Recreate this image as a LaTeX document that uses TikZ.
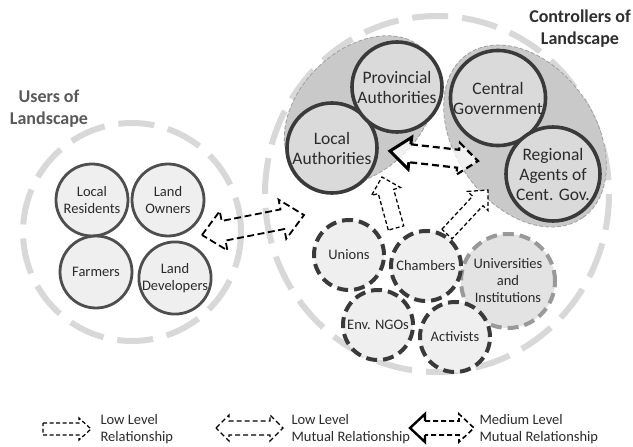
\documentclass[tikz,border=0pt]{standalone}
\usepackage{fontspec}
\setmainfont{Carlito}
\usetikzlibrary{calc}

\definecolor{ring}{HTML}{D8D8D8}
\definecolor{blob}{HTML}{C9C9C9}
\definecolor{topfill}{HTML}{DADADA}
\definecolor{lightfill}{HTML}{EFEFEF}
\definecolor{unifill}{HTML}{E3E3E3}
\definecolor{edge}{HTML}{3A3A3A}
\definecolor{txt}{HTML}{2B2B2B}

% single block arrow: style, tail, tip, shaft half width, head half width, head length
\newcommand\onewayarrow[6]{%
  \path ($(#3)!#6!(#2)$) coordinate (ow-h);
  \draw[#1] ($(#2)!#4!90:(#3)$) -- ($(ow-h)!#4!90:(#3)$) -- ($(ow-h)!#5!90:(#3)$)
    -- (#3) -- ($(ow-h)!#5!-90:(#3)$) -- ($(ow-h)!#4!-90:(#3)$) -- ($(#2)!#4!-90:(#3)$) -- cycle;
}
% double block arrow: style, end a, end b, shaft half width, head half width, head length
\newcommand\twowayarrow[6]{%
  \path ($(#2)!#6!(#3)$) coordinate (tw-a) ($(#3)!#6!(#2)$) coordinate (tw-b);
  \draw[#1] (#2) -- ($(tw-a)!#5!90:(#3)$) -- ($(tw-a)!#4!90:(#3)$) -- ($(tw-b)!#4!90:(#3)$)
    -- ($(tw-b)!#5!90:(#3)$) -- (#3) -- ($(tw-b)!#5!-90:(#3)$) -- ($(tw-b)!#4!-90:(#3)$)
    -- ($(tw-a)!#4!-90:(#3)$) -- ($(tw-a)!#5!-90:(#3)$) -- cycle;
}
% double block arrow with a solid head at end a: head style, rest style, a, b, s, h, L
\newcommand\mediumarrow[7]{%
  \path ($(#3)!#7!(#4)$) coordinate (md-a) ($(#4)!#7!(#3)$) coordinate (md-b);
  \fill[white, fill opacity=0.75] (#3) -- ($(md-a)!#6!90:(#4)$) -- ($(md-a)!#5!90:(#4)$) -- ($(md-b)!#5!90:(#4)$)
    -- ($(md-b)!#6!90:(#4)$) -- (#4) -- ($(md-b)!#6!-90:(#4)$) -- ($(md-b)!#5!-90:(#4)$)
    -- ($(md-a)!#5!-90:(#4)$) -- ($(md-a)!#6!-90:(#4)$) -- cycle;
  \draw[#2] ($(md-a)!#5!90:(#4)$) -- ($(md-b)!#5!90:(#4)$) -- ($(md-b)!#6!90:(#4)$) -- (#4)
    -- ($(md-b)!#6!-90:(#4)$) -- ($(md-b)!#5!-90:(#4)$) -- ($(md-a)!#5!-90:(#4)$);
  \draw[#1] ($(md-a)!#5!90:(#4)$) -- ($(md-a)!#6!90:(#4)$) -- (#3) -- ($(md-a)!#6!-90:(#4)$)
    -- ($(md-a)!#5!-90:(#4)$);
}

\tikzset{
  ringline/.style={draw=ring, line width=6pt, dash pattern=on 36pt off 14pt},
  blobshape/.style={fill=blob, draw=gray!75, line width=0.8pt, dash pattern=on 4pt off 2pt},
  usernode/.style={circle, draw=edge!90, line width=2.8pt, fill=lightfill, minimum size=72pt,
    inner sep=0pt, align=center, font=\fontsize{14.5}{17}\selectfont, text=txt},
  authnode/.style={circle, draw=edge, line width=3.6pt, fill=topfill, minimum size=90pt,
    inner sep=0pt, align=center, font=\fontsize{17.5}{20}\selectfont, text=txt},
  groupnode/.style={circle, draw=edge, line width=4pt, dash pattern=on 11pt off 6pt,
    fill=lightfill, minimum size=70pt, inner sep=0pt, align=center,
    font=\fontsize{14.5}{17}\selectfont, text=txt},
  heading/.style={align=center, font=\bfseries\fontsize{18}{22}\selectfont},
  legendtext/.style={anchor=west, align=left, font=\fontsize{14.5}{16.5}\selectfont, text=txt},
  lowarrow/.style={draw=black, fill=white, line width=1.25pt, dash pattern=on 4pt off 2.5pt},
  mutualarrow/.style={draw=black, line width=1.8pt, dash pattern=on 7pt off 3.5pt},
  medhead/.style={draw=black, line width=3pt, line join=miter},
  medshaft/.style={draw=black, line width=2.2pt, dash pattern=on 7pt off 4pt},
}

\begin{document}
\begin{tikzpicture}[x=1pt, y=-1pt]
\useasboundingbox[fill=white] (0,0) rectangle (633,447);

% the two groups
\draw[ringline] (132,232) circle [radius=109];
\draw[ringline] (437,194) ellipse [x radius=172, y radius=178];

% shaded pairs of authorities
\begin{scope}[shift={(360.5,111)}, rotate=44]
  \path[blobshape] (0,0) ellipse [x radius=88, y radius=61];
\end{scope}
\begin{scope}[shift={(525,136)}, rotate=-54.5]
  \path[blobshape] (0,0) ellipse [x radius=100, y radius=70];
\end{scope}

\node[heading, text=black!65] (users) at (49,109) {Users of\\Landscape};
\node[heading, text=black!82] (ctrl) at (580,29) {Controllers of\\Landscape};

% users of landscape
\node[usernode] (lr) at (92,200) {Local\\Residents};
\node[usernode] (lo) at (168,200) {Land\\Owners};
\node[usernode] (fa) at (96,272) {Farmers};
\node[usernode] (ld) at (175,278) {Land\\Developers};

% authorities
\node[authnode] (la) at (332,148) {Local\\Authorities};
\node[authnode] (pa) at (397,87) {Provincial\\Authorities};
\node[authnode] (cg) at (498,98) {Central\\Government};
\node[authnode, minimum size=94pt] (ra) at (553,174) {Regional\\Agents of\\Cent. Gov.};
% the rim of the central government circle seen through the regional one
\begin{scope}
  \clip (ra.center) circle [radius=45];
  \draw[draw=gray!85, line width=2.6pt] (cg.center) circle [radius=45];
\end{scope}

% other actors
\node[groupnode, draw=gray!80, fill=unifill, minimum size=94pt] (uni) at (508,281) {Universities\\and\\Institutions};
\node[groupnode] (un) at (349,255) {Unions};
\node[groupnode] (ch) at (426,266) {Chambers};
\node[groupnode] (ngo) at (378,325) {Env. NGOs};
\node[groupnode] (act) at (455,337) {Activists};

% relationships
\coordinate (m1a) at (202,235);
\coordinate (m1b) at (304,215);
\twowayarrow{mutualarrow}{m1a}{m1b}{10pt}{20pt}{22pt}

\coordinate (m2a) at (390,151);
\coordinate (m2b) at (478,161);
\mediumarrow{medhead}{medshaft}{m2a}{m2b}{9pt}{16pt}{20pt}

\coordinate (l1t) at (396,228);
\coordinate (l1h) at (382,177);
\onewayarrow{lowarrow}{l1t}{l1h}{8pt}{15pt}{15pt}

\coordinate (l2t) at (447,234);
\coordinate (l2h) at (488,190);
\onewayarrow{lowarrow}{l2t}{l2h}{7pt}{14pt}{15pt}

% legend
\coordinate (k1a) at (43,429);
\coordinate (k1b) at (91,429);
\onewayarrow{lowarrow}{k1a}{k1b}{6pt}{11pt}{12pt}
\node[legendtext] (k1t) at (97,429) {Low Level\\Relationship};

\coordinate (k2a) at (216,428);
\coordinate (k2b) at (283,428);
\twowayarrow{mutualarrow, line width=1.4pt, dash pattern=on 5pt off 3pt}{k2a}{k2b}{7pt}{13pt}{13pt}
\node[legendtext] (k2t) at (288,429) {Low Level\\Mutual Relationship};

\coordinate (k3a) at (410,428);
\coordinate (k3b) at (474,428);
\mediumarrow{medhead, line width=2.4pt}{medshaft, line width=1.6pt, dash pattern=on 5pt off 3pt}{k3a}{k3b}{7pt}{14pt}{15pt}
\node[legendtext] (k3t) at (476,429) {Medium Level\\Mutual Relationship};
\end{tikzpicture}
\end{document}
